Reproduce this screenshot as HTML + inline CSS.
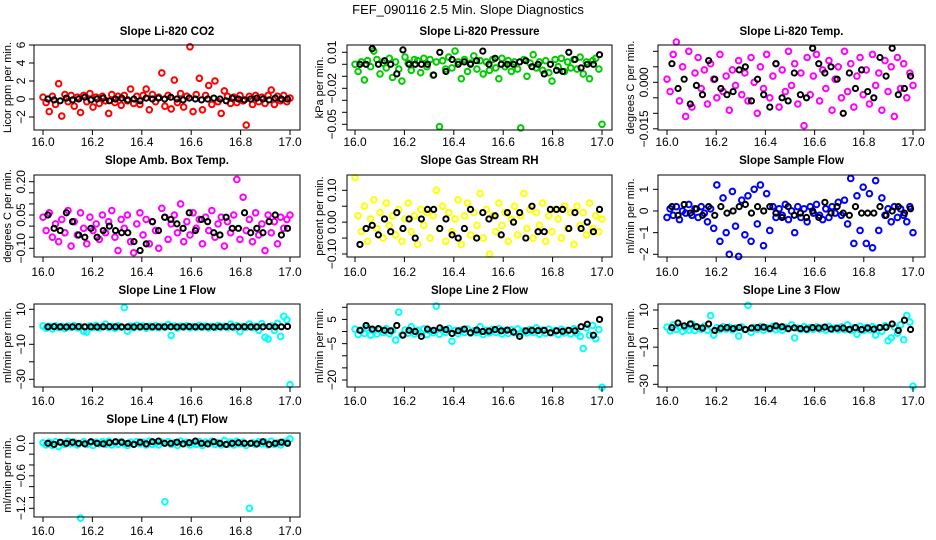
<!DOCTYPE html>
<html><head><meta charset="utf-8"><style>
html,body{margin:0;padding:0;background:#fff;}
svg{display:block;font-family:"Liberation Sans",sans-serif;}
</style></head><body>
<svg id="chart" width="936" height="540" viewBox="0 0 936 540">
<rect width="936" height="540" fill="#fff"/>
<text x="468" y="14" text-anchor="middle" font-size="13">FEF_090116  2.5 Min. Slope Diagnostics</text>
</svg>
<script>
const xTicks=[16.0,16.2,16.4,16.6,16.8,17.0];
const xTickLabels=["16.0","16.2","16.4","16.6","16.8","17.0"];
const co2Vals=[0.2,-0.4,-1.4,0.3,-0.6,1.7,-1.9,0.5,-0.3,0.4,-0.8,0.2,-1.5,0.4,-0.3,0.6,-0.9,0.2,-0.5,0.3,-0.2,-1.6,0.5,-0.4,0.3,-0.7,0.4,-0.2,1.1,-0.5,0.3,-0.6,0.4,1.1,-1.2,0.5,-0.3,0.2,2.9,-0.8,0.4,-1.1,2.1,-0.4,0.6,-0.9,0.3,5.8,-1.4,0.5,2.3,-1.2,0.4,1.5,-0.6,2.0,-0.3,-1.6,0.9,0.3,-0.5,0.2,-0.4,0.4,-0.2,-2.9,0.3,-0.6,0.4,-0.3,0.2,-0.5,0.4,1.0,-0.6,0.3,-0.2,0.4,-0.3,0.1];
const co2Black=[0,-0.1,-0.2,0.1,-0.1,0,0.2,-0.1,0,0.1,-0.2,0,0.1,-0.1,0,-0.2,0.1,0,0.1,0,0.2,0,-0.1,0.1,0,-0.1,0,0.1,0,-0.2,0.1,0,-0.1,0,0.1,0,-0.1,0.1,0,0];
const presVals=[0,-0.006,0.002,-0.013,0.003,-0.002,0.011,0.004,-0.008,0.001,-0.003,0.005,-0.011,0.002,-0.004,-0.014,0.006,0.001,-0.005,0.004,0.003,-0.007,0.005,-0.002,0.004,-0.009,0.002,-0.052,0.003,-0.004,0.006,-0.003,0.011,0.002,-0.012,0.004,-0.006,0.001,0.007,-0.004,0.003,-0.008,0.002,-0.005,0.004,-0.003,-0.012,0.005,-0.002,0.003,-0.006,0.002,-0.004,-0.053,0.004,-0.010,0.001,0.008,-0.003,0.002,-0.005,0.003,-0.007,-0.014,0.004,-0.002,0.005,-0.006,0.002,-0.003,0.004,-0.004,0.006,-0.008,0.002,-0.012,0.003,0.005,-0.004,-0.050];
const presBlack=[0,0,0.013,0,0.003,0,-0.008,0.012,0,0,0,0,-0.009,0.010,-0.006,0.004,0,0.002,0,0.003,0.011,0,0.005,0,0,0,0.002,0.003,-0.002,0,-0.008,0,-0.005,-0.006,0.010,0.004,-0.003,0,0,0.008];
const tempVals=[0.001,-0.003,0.009,0.013,-0.006,0.005,-0.011,0.010,-0.008,0.003,0.008,-0.002,0.004,-0.007,0.006,0.001,-0.005,0.009,-0.003,0.002,-0.009,0.004,-0.001,0.007,-0.004,0.003,-0.006,0.008,0.000,-0.010,0.005,-0.002,0.009,-0.005,0.002,0.006,-0.008,0.004,-0.003,0.010,-0.001,0.006,-0.007,0.003,-0.014,0.008,-0.004,0.002,0.009,-0.006,0.004,-0.002,0.007,-0.009,0.001,0.005,-0.005,0.010,-0.003,0.006,-0.008,0.002,0.008,-0.004,0.004,-0.007,0.009,-0.001,0.003,-0.009,0.007,-0.003,0.005,-0.011,0.008,-0.002,0.006,-0.005,0.003,-0.001];
const tempBlack=[0.006,-0.002,0.001,-0.007,-0.001,-0.004,0.007,0.001,-0.002,-0.004,-0.003,0.004,0.005,-0.006,0.001,-0.004,-0.008,0.006,-0.005,-0.006,0.003,-0.004,-0.005,0.011,0.006,0.003,0.005,0.001,-0.010,0.003,-0.002,0.004,-0.003,-0.005,0.008,0.002,0.011,-0.004,-0.002,0.002];
const ambVals=[0.04,-0.02,0.06,-0.05,0.01,-0.07,0.03,-0.03,0.07,-0.09,0.02,-0.04,0.06,-0.01,-0.08,0.04,-0.02,0.01,-0.06,0.05,-0.03,0.02,0.07,-0.05,-0.11,0.03,-0.01,0.05,-0.07,-0.12,0.01,0.06,-0.04,0.03,-0.08,0.02,-0.02,-0.10,0.08,0.04,-0.06,0.01,0.05,-0.03,0.10,-0.07,0.02,-0.04,0.06,-0.01,0.03,-0.08,0.04,-0.02,0.07,-0.05,0.01,0.04,-0.09,0.02,-0.03,0.05,0.21,-0.06,0.13,-0.02,0.03,-0.07,0.06,-0.04,0.01,-0.11,0.05,-0.03,0.02,-0.08,0.04,-0.01,0.03,0.05];
const ambBlack=[0.05,-0.01,-0.02,0.06,0.02,-0.04,-0.05,-0.01,-0.05,-0.02,0,-0.02,-0.03,-0.03,-0.07,-0.11,-0.08,0.02,-0.02,0.04,0.03,0.01,-0.01,0.06,-0.02,0.03,0.02,-0.03,-0.04,0.04,-0.01,-0.01,0.06,-0.03,-0.01,-0.03,0.02,0.05,-0.04,-0.01];
const rhVals=[0.14,0.02,-0.03,0.05,-0.06,0.01,0.07,-0.02,0.03,-0.05,0.06,-0.01,0.02,-0.04,0.04,-0.06,0.01,0.06,-0.03,0.02,-0.07,0.04,-0.01,0.03,-0.05,0.02,0.10,-0.02,0.05,-0.06,0.03,-0.03,0.01,0.07,-0.07,0.02,0.06,-0.04,0.03,-0.01,0.09,-0.05,0.04,-0.10,0.02,-0.03,0.06,-0.01,0.03,-0.06,0.01,0.05,-0.04,0.02,0.09,-0.02,0.04,-0.05,0.03,-0.01,0.06,-0.06,0.02,-0.03,0.04,0.01,-0.05,0.05,-0.02,0.03,-0.07,0.05,-0.01,0.03,-0.04,0.06,-0.02,0.02,-0.03,0.01];
const rhBlack=[-0.07,-0.02,-0.01,-0.04,0.01,-0.03,0.03,-0.02,0.01,-0.05,0.01,0.04,0.04,-0.02,0.01,-0.04,-0.05,-0.02,0.04,-0.05,0.03,0.01,0.02,-0.04,0.03,0.00,0.03,-0.05,0.05,-0.03,-0.03,0.04,0.04,0.04,-0.02,0.03,-0.02,0.00,-0.03,0.04];
const sampVals=[-0.3,0.1,-0.2,0.2,-0.4,0.0,-0.1,0.3,-0.2,0.1,-0.3,0.2,-0.1,-0.5,0.1,-0.8,1.2,-1.4,0.6,-1.0,-2.0,0.9,-0.7,-2.1,0.5,-1.1,0.7,-1.4,1.0,-0.6,1.2,-1.6,0.8,-0.9,0.2,-0.3,0.1,-0.2,0.3,-0.4,0.0,-1.0,0.2,-0.3,0.1,-0.5,0.2,-0.1,0.3,-0.2,-0.4,0.1,-0.3,0.2,-0.1,0.4,-0.2,0.5,-0.6,1.5,-1.5,0.7,-0.9,1.1,-1.5,0.8,-1.7,1.4,-0.9,0.6,-0.2,0.1,-0.5,0.2,-0.3,0.1,-0.2,-0.5,0.2,-1.0];
const sampBlack=[0.2,-0.2,0.3,-0.1,0.1,-0.2,0.2,-0.2,0.2,-0.1,0.0,0.2,0.3,-0.1,0.2,0.0,0.2,-0.1,-0.3,0.2,-0.2,-0.1,-0.3,0.0,-0.3,0.4,-0.1,0.2,-0.1,-0.2,0.2,-0.1,-0.1,-0.1,0.2,-0.2,0.0,0.2,-0.1,0.1];
const l1Vals=[0.5,-0.8,0.3,-1.2,0.6,-0.5,0.2,-1.0,0.4,-0.3,0.7,-0.6,0.1,-2.5,-3.0,0.5,-0.4,0.8,-0.7,0.3,1.5,-0.5,0.2,-0.9,0.6,-0.3,11.0,-2.5,0.4,-0.6,0.9,-0.2,0.5,-0.8,0.3,-0.4,0.7,-0.5,0.2,-0.3,1.2,-5.0,0.4,-0.7,0.3,-0.2,0.6,-0.5,0.1,-0.4,0.8,-0.3,0.5,-0.6,0.2,-0.4,0.7,-0.2,0.3,-0.5,1.5,-0.4,0.6,-2.8,0.2,-0.3,1.6,-0.5,0.3,-2.0,1.8,-6.0,-7.0,0.4,-2.0,2.0,-5.5,6.0,4.0,-33.0];
const l1Black=[0,0.1,0,-0.1,0,0.1,0,0,-0.1,0,0.1,0,0,0,-0.1,0,0.1,0,0,0,0,-0.1,0,0.1,0,0,0,-0.1,0,0.1,0,0,0,0,-0.1,0,0.1,0,0,0.2];
const l2Vals=[1.0,-1.2,0.5,-0.8,1.5,-1.5,0.3,-1.0,0.8,-0.4,1.2,-0.9,0.4,-3.5,8.0,-1.4,0.6,-0.7,2.0,-1.0,0.5,-0.6,1.1,-1.3,0.2,-0.5,10.5,-1.1,0.7,-0.3,1.3,-4.0,0.4,-0.9,0.6,-0.4,1.0,-0.7,0.3,-0.5,2.0,-1.2,0.5,-0.6,0.9,-0.3,1.2,-1.0,0.4,-0.8,0.7,-0.5,1.1,-0.9,0.3,-0.6,0.8,-0.4,1.5,-1.1,0.6,-0.7,1.0,-0.5,0.4,-1.2,0.9,-0.6,0.5,-1.0,1.2,-0.8,-2.0,-7.0,1.5,-1.5,2.5,-3.0,0.8,-23.0];
const l2Black=[0.5,2.5,1.0,1.2,0.5,0.3,2.5,-1.5,0.5,0,-2.0,1.0,0.5,1.5,0.8,-0.8,0.3,1.0,-0.5,0.6,0,0.2,0.8,0.3,0.6,-0.2,-2.0,0.3,0.5,0.4,0.5,-0.5,0.3,0.1,0.5,0.3,2.0,3.0,-1.5,5.0];
const l3Vals=[0.8,-1.2,2.0,-0.5,1.0,-1.5,0.4,-0.8,2.5,-1.0,0.6,-0.4,1.2,-0.9,7.0,-3.5,0.5,-0.6,1.0,-0.3,0.8,-0.7,0.3,-4.0,0.9,-0.5,12.5,-2.0,0.6,-0.4,1.0,-0.8,0.5,-0.3,1.2,-0.6,0.4,-0.9,0.7,-0.2,2.0,-5.0,0.3,-0.5,1.0,-0.7,0.6,-0.4,0.9,-0.3,0.5,-0.8,1.1,-0.4,0.3,-0.6,0.9,-0.5,2.0,-0.9,0.4,-3.0,1.2,-1.0,0.6,-0.7,1.0,-3.5,0.5,-1.5,1.5,-6.5,-5.0,0.8,-2.5,2.0,-6.0,7.0,3.5,-31.0];
const l3Black=[0.5,3.0,1.5,2.5,1.0,0.3,2.5,-1.0,0.2,0.5,0,0.6,-0.5,0.3,0.5,0.8,0,1.5,1.0,0,0.4,0,-0.3,0.5,0.3,0.8,-0.2,0.2,0.3,-0.4,0.5,-0.5,0.3,-0.3,0.5,0.7,2.5,-1.0,4.5,-0.5];
const l4Vals=[0.01,-0.03,0.02,-0.04,0.03,-0.06,0.01,-0.02,0.04,-0.01,0.02,-0.03,-1.38,0.03,-0.02,0.01,-0.04,0.02,-0.01,0.03,-0.02,0.04,-0.03,0.01,-0.02,0.03,-0.01,-0.04,0.02,-0.02,0.03,-0.01,0.02,-0.03,0.04,-0.02,0.01,-0.03,0.02,-1.08,0.03,-0.02,0.01,-0.04,0.04,-0.01,0.02,-0.03,0.01,-0.02,0.03,-0.04,0.02,-0.01,0.04,-0.02,0.01,-0.03,0.05,-0.02,0.02,-0.03,0.04,-0.01,0.02,-0.04,-1.20,0.01,-0.02,0.03,-0.01,0.02,-0.03,0.04,-0.02,0.01,-0.03,0.02,0.03,0.08];
const l4Black=[0,-0.02,0.02,0,0.02,0,-0.01,0.03,0,-0.01,0.01,0.03,0.02,0,-0.02,0.02,-0.01,0.03,0.04,0,0,0.02,-0.01,0.01,0.04,0,-0.01,0.03,0,-0.02,0,0.01,0,0,-0.01,0.03,-0.02,0,0.02,0];

const NS="http://www.w3.org/2000/svg";
const svg=document.getElementById('chart');
function mk(tag,attrs,parent,txt){const e=document.createElementNS(NS,tag);for(const k in attrs)e.setAttribute(k,attrs[k]);if(txt!==undefined)e.textContent=txt;(parent||svg).appendChild(e);return e;}
const cols=[{t0:43,t1:290,bx0:34,bx1:300,tl:22,at:8},{t0:355,t1:602,bx0:347,bx1:612,tl:333,at:320},{t0:667,t1:913,bx0:658,bx1:925,tl:645,at:631}];
const rows=[{by0:45,by1:130,ty:35,xl:143},{by0:175,by1:257,ty:164,xl:273},{by0:304,by1:387,ty:294,xl:402},{by0:433,by1:517,ty:423,xl:532}];
const panels=[
{slug:'co2',title:'Slope Li-820 CO2',ylab:'Licor ppm per min.',r:0,c:0,col:'#ff0000',vals:co2Vals,blk:co2Black,v1:0,p1:99,v2:2,p2:81,ticks:[-2,0,2,4,6],labs:['\u22122','0','2','4','6']},
{slug:'pressure',title:'Slope Li-820 Pressure',ylab:'kPa per min.',r:0,c:1,col:'#00cd00',vals:presVals,blk:presBlack,v1:0,p1:64.3,v2:0.01,p2:52.3,ticks:[-0.05,-0.04,-0.03,-0.02,-0.01,0,0.01],labs:['\u22120.05','','','\u22120.02','','','0.01']},
{slug:'li820-temp',title:'Slope Li-820 Temp.',ylab:'degrees C per min.',r:0,c:2,col:'#ff00ff',vals:tempVals,blk:tempBlack,v1:0,p1:82.3,v2:0.005,p2:66.8,ticks:[-0.015,-0.01,-0.005,0,0.005,0.01],labs:['\u22120.015','','','0.000','','']},
{slug:'amb-box-temp',title:'Slope Amb. Box Temp.',ylab:'degrees C per min.',r:1,c:0,col:'#ff00ff',vals:ambVals,blk:ambBlack,v1:0.2,p1:181.7,v2:-0.1,p2:248.3,ticks:[-0.1,-0.05,0,0.05,0.1,0.15,0.2],labs:['\u22120.10','','','0.05','','','0.20']},
{slug:'gas-stream-rh',title:'Slope Gas Stream RH',ylab:'percent per min.',r:1,c:1,col:'#ffff00',vals:rhVals,blk:rhBlack,v1:0.1,p1:190.3,v2:-0.1,p2:254,ticks:[-0.1,-0.05,0,0.05,0.1],labs:['\u22120.10','','0.00','','0.10']},
{slug:'sample-flow',title:'Slope Sample Flow',ylab:'ml/min per min.',r:1,c:2,col:'#0000ff',vals:sampVals,blk:sampBlack,v1:1,p1:189.3,v2:-2,p2:254.3,ticks:[-2,-1,0,1],labs:['\u22122','\u22121','0','1']},
{slug:'line1-flow',title:'Slope Line 1 Flow',ylab:'ml/min per min.',r:2,c:0,col:'#00ffff',vals:l1Vals,blk:l1Black,v1:10,p1:309.3,v2:-30,p2:379.3,ticks:[-30,-20,-10,0,10],labs:['\u221230','','\u221210','','10']},
{slug:'line2-flow',title:'Slope Line 2 Flow',ylab:'ml/min per min.',r:2,c:1,col:'#00ffff',vals:l2Vals,blk:l2Black,v1:10,p1:307.3,v2:-20,p2:380,ticks:[-20,-15,-10,-5,0,5,10],labs:['\u221220','','','\u22125','','5','']},
{slug:'line3-flow',title:'Slope Line 3 Flow',ylab:'ml/min per min.',r:2,c:2,col:'#00ffff',vals:l3Vals,blk:l3Black,v1:10,p1:310,v2:-30,p2:384.3,ticks:[-30,-20,-10,0,10],labs:['\u221230','','\u221210','','10']},
{slug:'line4-lt-flow',title:'Slope Line 4 (LT) Flow',ylab:'ml/min per min.',r:3,c:0,col:'#00ffff',vals:l4Vals,blk:l4Black,v1:0,p1:443.3,v2:-1.2,p2:508.3,ticks:[-1.2,-1.0,-0.8,-0.6,-0.4,-0.2,0],labs:['\u22121.2','','','\u22120.6','','','0.0']}
];
panels.forEach(p=>{
  const C=cols[p.c],R=rows[p.r];
  const g=mk('g',{});
  
  
  const xs=v=>C.t0+(v-16)*(C.t1-C.t0);
  const ys=v=>p.p1+(v-p.v1)*(p.p2-p.p1)/(p.v2-p.v1);
  const cx=(C.bx0+C.bx1)/2, cy=(R.by0+R.by1)/2;
  const t=mk('text',{x:cx,y:R.ty,'text-anchor':'middle','font-size':'11.5','font-weight':'bold'},g,p.title);
  
  
  const yl=mk('text',{x:C.at,y:cy,'text-anchor':'middle','dominant-baseline':'middle','font-size':'11',transform:`rotate(-90 ${C.at} ${cy})`},g,p.ylab);
  
  
  const pts=mk('g',{fill:'none','stroke-width':'2'},g);
  
  
  const n=p.vals.length;
  p.vals.forEach((v,i)=>{
    const c=mk('circle',{cx:xs(16+i/(n-1)),cy:ys(v),r:2.8,stroke:p.col},pts);
    
    
  });
  const m=p.blk.length;
  p.blk.forEach((v,i)=>{
    const c=mk('circle',{cx:xs(16.02+i*0.97/(m-1)),cy:ys(v),r:2.6,stroke:'#000'},pts);
    
    
  });
  const box=mk('rect',{x:C.bx0,y:R.by0,width:C.bx1-C.bx0,height:R.by1-R.by0,fill:'none',stroke:'#000','stroke-width':'1'},g);
  
  
  const xa=mk('g',{},g);
  
  
  xTicks.forEach((v,i)=>{
    const x=xs(v);
    mk('line',{x1:x,x2:x,y1:R.by1,y2:R.by1+5,stroke:'#000'},xa);
    const l=mk('text',{x:x,y:R.xl,'text-anchor':'middle','dominant-baseline':'middle','font-size':'12'},xa,xTickLabels[i]);
    
    
  });
  const ya=mk('g',{},g);
  
  
  p.ticks.forEach((v,i)=>{
    const y=ys(v);
    mk('line',{x1:C.bx0-5,x2:C.bx0,y1:y,y2:y,stroke:'#000'},ya);
    if(p.labs[i]){
      const l=mk('text',{x:C.tl,y:y,'text-anchor':'middle','dominant-baseline':'middle','font-size':'12',transform:`rotate(-90 ${C.tl} ${y})`},ya,p.labs[i]);
      
      
    }
  });
});
</script>
</body></html>
